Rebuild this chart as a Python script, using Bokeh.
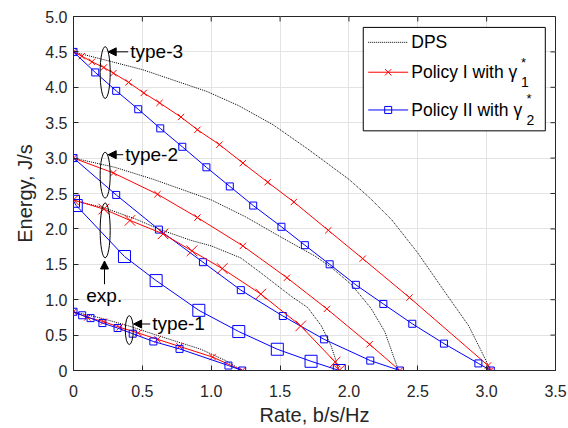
from bokeh.plotting import figure
from bokeh.models import (Range1d, FixedTicker, NumeralTickFormatter,
                          Arrow, NormalHead, Label)
from bokeh.embed import file_html
from bokeh.resources import INLINE

FONT = "Liberation Sans"
RED = "#FF0000"
BLUE = "#0000FF"
DOT = "#000000"
AXC = "#262626"

# ---------------- data ----------------
# type-3
dps3_x = [0, 0.5, 0.97, 1.2, 1.45, 1.7, 2.0, 2.15, 2.31, 2.50, 2.70, 2.87, 2.96, 3.03]
dps3_y = [4.5, 4.25, 3.94, 3.74, 3.47, 3.13, 2.70, 2.44, 2.13, 1.66, 1.10, 0.63, 0.28, 0.0]
p1_3_x = [0, 0.06, 0.134, 0.22, 0.29, 0.40, 0.51, 0.625, 0.78, 0.90, 1.06, 1.23,
          1.41, 1.60, 1.85, 2.10, 2.44, 3.01, 3.03]
p1_3_y = [4.5, 4.44, 4.36, 4.28, 4.20, 4.07, 3.92, 3.78, 3.58, 3.40, 3.19, 2.93,
          2.66, 2.38, 1.98, 1.58, 1.03, 0.07, 0.0]
p2_3_x = [0, 0.158, 0.31, 0.47, 0.63, 0.79, 0.965, 1.135, 1.305, 1.51, 1.68, 1.86,
          2.05, 2.25, 2.46, 2.69, 2.94, 3.03]
p2_3_y = [4.5, 4.21, 3.95, 3.69, 3.42, 3.16, 2.87, 2.60, 2.33, 2.03, 1.77, 1.50,
          1.21, 0.94, 0.66, 0.38, 0.10, 0.0]
# type-2
dps2_x = [0, 0.3, 0.58, 1.0, 1.25, 1.51, 1.75, 1.87, 2.02, 2.16, 2.26, 2.36]
dps2_y = [3.0, 2.87, 2.70, 2.41, 2.17, 1.88, 1.62, 1.46, 1.21, 0.88, 0.55, 0.0]
p1_2_x = [0, 0.29, 0.61, 0.90, 1.23, 1.55, 1.84, 2.15, 2.37]
p1_2_y = [3.0, 2.79, 2.49, 2.16, 1.76, 1.31, 0.87, 0.37, 0.0]
p2_2_x = [0, 0.31, 0.62, 0.94, 1.215, 1.52, 1.82, 2.155, 2.37]
p2_2_y = [3.0, 2.48, 1.99, 1.53, 1.135, 0.77, 0.44, 0.14, 0.0]
# exp.
dpse_x = [0, 0.22, 0.45, 0.63, 0.85, 1.0, 1.215, 1.36, 1.58, 1.70, 1.80, 1.87, 1.93]
dpse_y = [2.40, 2.30, 2.14, 1.99, 1.84, 1.76, 1.59, 1.38, 1.05, 0.89, 0.63, 0.35, 0.0]
p1_e_x = [0, 0.22, 0.41, 0.65, 0.86, 1.08, 1.36, 1.65, 1.90, 1.93]
p1_e_y = [2.41, 2.28, 2.12, 1.93, 1.69, 1.44, 1.08, 0.63, 0.12, 0.0]
p2_e_x = [0, 0.02, 0.37, 0.60, 0.91, 1.20, 1.48, 1.725, 1.93]
p2_e_y = [2.39, 2.33, 1.61, 1.27, 0.85, 0.55, 0.30, 0.13, 0.0]
# type-1
dps1_x = [0, 0.2, 0.4, 0.65, 0.925, 1.105, 1.225]
dps1_y = [0.83, 0.74, 0.63, 0.47, 0.30, 0.14, 0.0]
p1_1_x = [0, 0.10, 0.22, 0.335, 0.47, 0.61, 0.77, 1.01, 1.225]
p1_1_y = [0.83, 0.75, 0.69, 0.61, 0.53, 0.44, 0.34, 0.19, 0.0]
p2_1_x = [0, 0.063, 0.124, 0.21, 0.32, 0.43, 0.58, 0.77, 1.125, 1.225]
p2_1_y = [0.83, 0.78, 0.74, 0.67, 0.60, 0.52, 0.41, 0.305, 0.07, 0.0]

x_ticks = [0, 0.5, 1.0, 1.5, 2.0, 2.5, 3.0, 3.5]
y_ticks = [0, 0.5, 1.0, 1.5, 2.0, 2.5, 3.0, 3.5, 4.0, 4.5, 5.0]
X_MAX, Y_MAX = 3.5, 5.0

legend_labels = ["DPS", "Policy I with \u03b3", "Policy II with \u03b3"]

# annotation groups: ellipse (x, y, w, h), arrow (x0, y0, x1, y1), text (x, y, str, align)
ell_x = [0.230, 0.230, 0.230, 0.405]
ell_y = [4.208, 2.759, 1.979, 0.571]
ell_w = [0.073, 0.073, 0.073, 0.058]
ell_h = [0.731, 0.647, 0.774, 0.408]
arr = [(0.397, 4.501, 0.252, 4.501),
       (0.361, 3.048, 0.252, 3.048),
       (0.225, 1.219, 0.225, 1.547),
       (0.557, 0.657, 0.436, 0.657)]
ann_text = ["type-3", "type-2", "exp.", "type-1"]
ann_x = [0.412, 0.375, 0.223, 0.571]
ann_y = [4.501, 3.048, 1.063, 0.657]
ann_align = ["left", "left", "center", "left"]

# legend box (in data units) and its rows
leg_box = (2.104, 3.426, 4.846, 3.385)      # left, right, top, bottom
leg_row_y = [4.635, 4.213, 3.680]
leg_key_x = (2.140, 2.430)
leg_text_x = 2.453
# gamma sub/superscripts: text, x, y, size
leg_sub = [("*", 3.250, 4.354, "13px"), ("1", 3.250, 4.073, "14px"),
           ("*", 3.290, 3.848, "13px"), ("2", 3.290, 3.539, "14px")]

# ---------------- figure ----------------
p = figure(width=568, height=428, x_range=Range1d(0, X_MAX), y_range=Range1d(0, Y_MAX),
           output_backend="svg", toolbar_location=None,
           min_border_left=73, min_border_right=13, min_border_top=16, min_border_bottom=56)
p.background_fill_color = "white"
p.outline_line_color = AXC
p.outline_line_width = 1

for ax, ticks in ((p.xaxis[0], x_ticks), (p.yaxis[0], y_ticks)):
    ax.ticker = FixedTicker(ticks=ticks)
    ax.formatter = NumeralTickFormatter(format="0.0")
    ax.major_label_overrides = {0: "0"}
    ax.major_tick_in = 5
    ax.major_tick_out = 0
    ax.minor_tick_line_color = None
    ax.axis_line_color = AXC
    ax.major_tick_line_color = AXC
    ax.major_label_text_font = FONT
    ax.major_label_text_font_size = "16px"
    ax.major_label_text_color = AXC
    ax.axis_label_text_font = FONT
    ax.axis_label_text_font_size = "20px"
    ax.axis_label_text_font_style = "normal"
    ax.axis_label_text_color = AXC

p.xaxis.axis_label = "Rate, b/s/Hz"
p.yaxis.axis_label = "Energy, J/s"
p.xaxis.major_label_standoff = 14
p.xaxis.axis_label_standoff = 4
p.yaxis.major_label_standoff = 6
p.yaxis.axis_label_standoff = 6

p.xgrid.ticker = FixedTicker(ticks=x_ticks)
p.ygrid.ticker = FixedTicker(ticks=y_ticks)
p.grid.grid_line_color = "#e3e3e3"
p.grid.grid_line_width = 1

# inward ticks on the top and right edges of the box (5 px long)
tick_dy = 5 / 71.2
tick_dx = 5 / 137.7
p.segment(x0=x_ticks, y0=[Y_MAX] * len(x_ticks), x1=x_ticks,
          y1=[Y_MAX - tick_dy] * len(x_ticks), line_color=AXC, line_width=1)
p.segment(x0=[X_MAX] * len(y_ticks), y0=y_ticks, x1=[X_MAX - tick_dx] * len(y_ticks),
          y1=y_ticks, line_color=AXC, line_width=1)

# ---------------- series ----------------
groups = [
    (dps3_x, dps3_y, p1_3_x, p1_3_y, p2_3_x, p2_3_y, 9, 7),
    (dps2_x, dps2_y, p1_2_x, p1_2_y, p2_2_x, p2_2_y, 9, 7),
    (dpse_x, dpse_y, p1_e_x, p1_e_y, p2_e_x, p2_e_y, 15, 12),
    (dps1_x, dps1_y, p1_1_x, p1_1_y, p2_1_x, p2_1_y, 9, 7),
]
for dx, dy, ax_, ay_, bx_, by_, xs, ss in groups:
    p.line(dx, dy, line_color=DOT, line_width=1, line_dash="1 1")
    p.line(ax_, ay_, line_color=RED, line_width=1)
    p.scatter(ax_, ay_, marker="x", size=xs, line_color=RED, line_width=1)
    p.line(bx_, by_, line_color=BLUE, line_width=1)
    p.scatter(bx_, by_, marker="square", size=ss, line_color=BLUE,
              fill_color=None, line_width=1)

# ---------------- annotations ----------------
p.ellipse(x=ell_x, y=ell_y, width=ell_w, height=ell_h, fill_color=None,
          line_color="black", line_width=1)
for (x0, y0, x1, y1) in arr:
    p.add_layout(Arrow(end=NormalHead(size=8, fill_color="black", line_color="black"),
                       x_start=x0, y_start=y0, x_end=x1, y_end=y1,
                       line_color="black", line_width=1))
for t, x, y, a in zip(ann_text, ann_x, ann_y, ann_align):
    p.add_layout(Label(x=x, y=y, text=t, text_font=FONT, text_font_size="19px",
                       text_align=a, text_baseline="middle", text_color="black"))

# ---------------- legend (drawn by hand so gamma can carry sub/superscripts) ----------------
l, r, t, b = leg_box
p.quad(left=[l], right=[r], top=[t], bottom=[b], fill_color="white", line_color="black",
       line_width=1)
k0, k1 = leg_key_x
kc = (k0 + k1) / 2
p.line([k0, k1], [leg_row_y[0]] * 2, line_color=DOT, line_width=1, line_dash="1 1")
p.line([k0, k1], [leg_row_y[1]] * 2, line_color=RED, line_width=1)
p.scatter([kc], [leg_row_y[1]], marker="x", size=9, line_color=RED, line_width=1)
p.line([k0, k1], [leg_row_y[2]] * 2, line_color=BLUE, line_width=1)
p.scatter([kc], [leg_row_y[2]], marker="square", size=7, line_color=BLUE,
          fill_color=None, line_width=1)
for txt, y in zip(legend_labels, leg_row_y):
    p.add_layout(Label(x=leg_text_x, y=y, text=txt, text_font=FONT, text_font_size="17.5px",
                       text_align="left", text_baseline="middle", text_color="black"))
for txt, x, y, s in leg_sub:
    p.add_layout(Label(x=x, y=y, text=txt, text_font=FONT, text_font_size=s,
                       text_align="left", text_baseline="middle", text_color="black"))

open("out.html", "w").write(file_html(p, INLINE))
